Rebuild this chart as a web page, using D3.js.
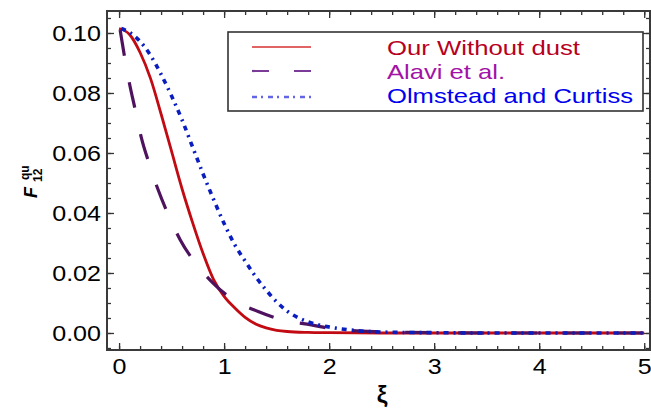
<meta charset="utf-8">
<title>F12 qu</title>
<body style="margin:0;background:#fff">
<script src="https://d3js.org/d3.v7.min.js"></script>
<script>

var width = 651, height = 415;

// curves
var ourXi = [0, 0.1, 0.2, 0.3, 0.4, 0.5, 0.6, 0.7, 0.8, 0.9, 1.0, 1.1, 1.2, 1.3, 1.4, 1.5, 1.6, 1.8, 2.0, 2.5, 3, 4, 5];
var ourF  = [0.1015, 0.0995, 0.0935, 0.0848, 0.0730, 0.0605, 0.0480, 0.0368, 0.0265, 0.0178, 0.0122, 0.0084, 0.0052, 0.0030, 0.0017, 0.0009, 0.0005, 0.0002, 0.0001, 0, 0, 0, 0];

var alaviXi = [0.01, 0.05, 0.1, 0.15, 0.21, 0.28, 0.37, 0.46, 0.58, 0.71, 0.89, 1.08, 1.33, 1.56, 1.83, 2.07, 2.5, 3.0, 3.5, 4, 5];
var alaviF  = [0.1010, 0.0925, 0.0830, 0.0750, 0.0654, 0.0571, 0.0479, 0.0401, 0.0312, 0.0241, 0.0168, 0.0112, 0.0071, 0.0043, 0.0027, 0.0012, 0.0004, 0.0001, 0, 0, 0];

var olmXi = [0.02, 0.1, 0.2, 0.3, 0.4, 0.5, 0.6, 0.7, 0.8, 0.9, 1.0, 1.1, 1.2, 1.3, 1.4, 1.5, 1.6, 1.7, 1.8, 1.9, 2.0, 2.2, 2.5, 3, 3.5, 4, 5];
var olmF  = [0.1015, 0.1002, 0.0972, 0.0925, 0.0862, 0.0790, 0.0710, 0.0620, 0.0530, 0.0445, 0.0365, 0.0295, 0.0240, 0.0188, 0.0143, 0.0104, 0.0073, 0.0052, 0.0037, 0.0027, 0.0020, 0.0010, 0.0003, 0.0001, 0, 0, 0];

var legendNames = ['Our Without dust', 'Alavi et al.', 'Olmstead and Curtiss'];
var xTicks = [0, 1, 2, 3, 4, 5];
var yTicks = [0, 0.02, 0.04, 0.06, 0.08, 0.10];

var svg = d3.select('body').append('svg')
    .attr('width', width).attr('height', height)
    .style('display', 'block')
    .style('font-family', 'Liberation Sans, Arial, sans-serif');

var x = d3.scaleLinear().domain([-0.115, 5.055]).range([107, 650]);
var y = d3.scaleLinear().domain([-0.00567, 0.10733]).range([350, 11]);

// stretch text horizontally like the picture
function stretch(sel, k) {
  sel.each(function() {
    var w = this.getComputedTextLength();
    d3.select(this).attr('textLength', w * k).attr('lengthAdjust', 'spacingAndGlyphs');
  });
}

var minorX = d3.range(0, 5.01, 0.2);
var minorY = d3.range(-0.005, 0.1051, 0.005);

function axisStyle(g) {
  g.select('.domain').remove();
  g.selectAll('line').attr('stroke', '#333').attr('stroke-width', 1.3);
}

// bottom
svg.append('g').attr('transform', 'translate(0,350)')
  .call(d3.axisBottom(x).tickValues(minorX).tickSize(-4).tickFormat(''))
  .call(axisStyle);
var gxb = svg.append('g').attr('transform', 'translate(0,350)')
  .call(d3.axisBottom(x).tickValues(xTicks).tickSize(-7).tickPadding(8).tickFormat(d3.format('d')))
  .call(axisStyle);
gxb.selectAll('text').attr('font-size', 22).attr('fill', '#000').attr('dy', '0.72em');
stretch(gxb.selectAll('text'), 1.14);

// top
svg.append('g').attr('transform', 'translate(0,11)')
  .call(d3.axisTop(x).tickValues(minorX).tickSize(-4).tickFormat(''))
  .call(axisStyle);
svg.append('g').attr('transform', 'translate(0,11)')
  .call(d3.axisTop(x).tickValues(xTicks).tickSize(-7).tickFormat(''))
  .call(axisStyle);

// left
svg.append('g').attr('transform', 'translate(107,0)')
  .call(d3.axisLeft(y).tickValues(minorY).tickSize(-4).tickFormat(''))
  .call(axisStyle);
var gyl = svg.append('g').attr('transform', 'translate(107,0)')
  .call(d3.axisLeft(y).tickValues(yTicks).tickSize(-7).tickPadding(6).tickFormat(d3.format('.2f')))
  .call(axisStyle);
gyl.selectAll('text').attr('font-size', 22).attr('fill', '#000').attr('dy', '0.36em');
stretch(gyl.selectAll('text'), 1.14);

// right
svg.append('g').attr('transform', 'translate(650,0)')
  .call(d3.axisRight(y).tickValues(minorY).tickSize(-4).tickFormat(''))
  .call(axisStyle);
svg.append('g').attr('transform', 'translate(650,0)')
  .call(d3.axisRight(y).tickValues(yTicks).tickSize(-7).tickFormat(''))
  .call(axisStyle);

// frame
svg.append('path')
  .attr('d', 'M107,11V350H650V11Z')
  .attr('fill', 'none').attr('stroke', '#3a3a3a').attr('stroke-width', 2);

// curves
var line = d3.line().curve(d3.curveMonotoneX)
  .x(function(d) { return x(d[0]); })
  .y(function(d) { return y(d[1]); });

svg.append('path')
  .datum(d3.zip(ourXi, ourF))
  .attr('d', line)
  .attr('fill', 'none').attr('stroke', '#c20a12').attr('stroke-width', 2.8);

svg.append('path')
  .datum(d3.zip(alaviXi, alaviF))
  .attr('d', line)
  .attr('fill', 'none').attr('stroke', '#4e125e').attr('stroke-width', 3.2)
  .attr('stroke-dasharray', '26,27');

svg.append('path')
  .datum(d3.zip(olmXi, olmF))
  .attr('d', line)
  .attr('fill', 'none').attr('stroke', '#0a1ec0').attr('stroke-width', 3.6)
  .attr('stroke-dasharray', '5,5,2,5');

// legend
var legend = svg.append('g');
legend.append('rect')
  .attr('x', 228).attr('y', 32).attr('width', 415).attr('height', 79)
  .attr('fill', '#fff').attr('stroke', '#333').attr('stroke-width', 1.6);

var legY = [47, 71, 97];
var legBase = [55, 79, 102.5];
var legLine = ['#e06464', '#7b3c98', '#6464e6'];
var legDash = [null, '17,25', '5,4,2,5'];
var legText = ['#b8001e', '#a213a6', '#0000f0'];
var legWidth = [193, 118, 246];

legendNames.forEach(function(name, i) {
  legend.append('line')
    .attr('x1', 252).attr('x2', 311).attr('y1', legY[i]).attr('y2', legY[i])
    .attr('stroke', legLine[i]).attr('stroke-width', i == 2 ? 2.4 : 2.2)
    .attr('stroke-dasharray', legDash[i]);
  legend.append('text')
    .attr('x', 387).attr('y', legBase[i])
    .attr('font-size', 21)
    .attr('fill', legText[i])
    .attr('textLength', legWidth[i]).attr('lengthAdjust', 'spacingAndGlyphs')
    .text(name);
});

// axis titles
svg.append('text')
  .attr('x', 382).attr('y', 403)
  .attr('text-anchor', 'middle')
  .attr('font-size', 24).attr('font-weight', 'bold')
  .text('ξ');

var yl = svg.append('g').attr('transform', 'translate(37,198) rotate(-90)');
yl.append('text').attr('x', 0).attr('y', 0)
  .attr('font-size', 18).attr('font-weight', 'bold').attr('font-style', 'italic')
  .text('F');
yl.append('text').attr('x', 18).attr('y', -8)
  .attr('font-size', 12).attr('font-weight', 'bold')
  .text('qu');
yl.append('text').attr('x', 16).attr('y', 5)
  .attr('font-size', 12).attr('font-weight', 'bold')
  .text('12');

</script>
